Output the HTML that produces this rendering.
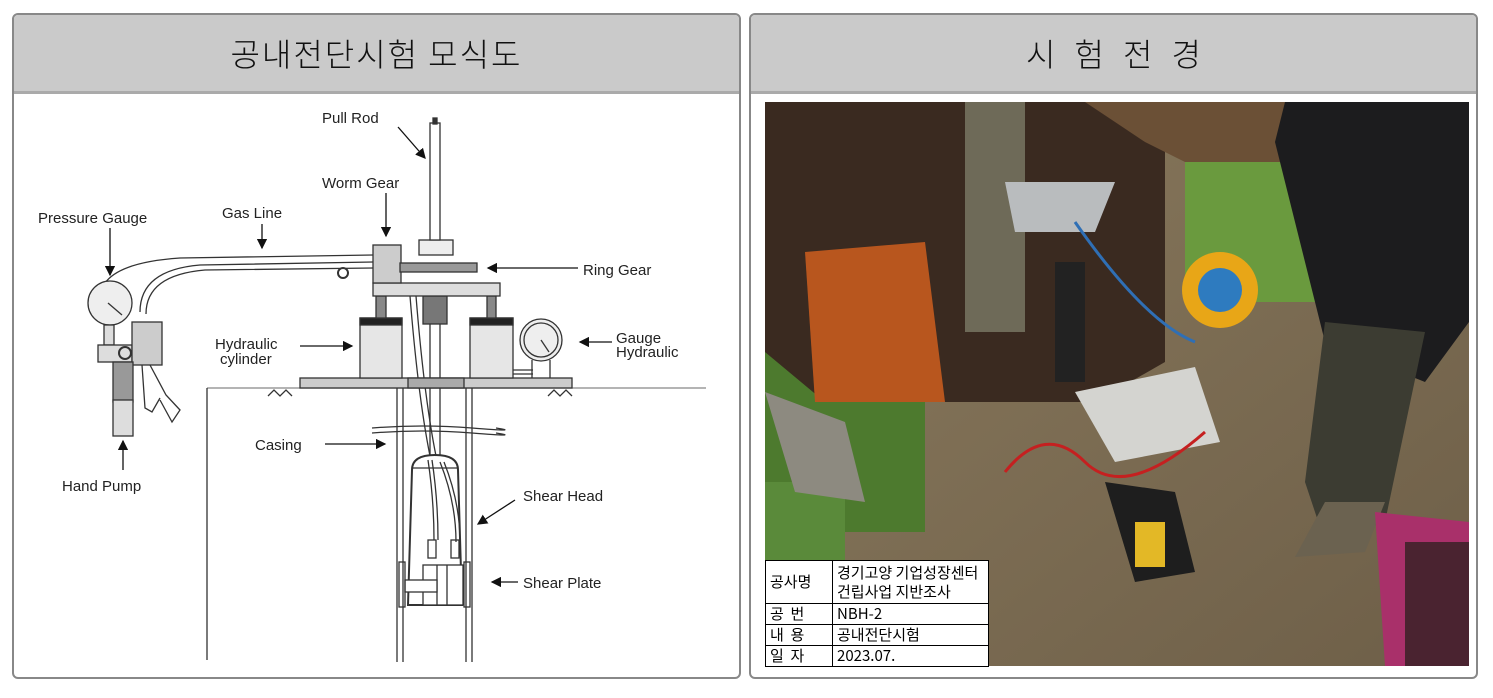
<!DOCTYPE html>
<html><head><meta charset="utf-8">
<style>
body{margin:0;width:1493px;height:698px;background:#fff;position:relative;overflow:hidden;font-family:"Liberation Sans","Noto Sans CJK KR",sans-serif}
.panel{position:absolute;top:13px;height:666px;border:2px solid #888;border-radius:6px;box-sizing:border-box;overflow:hidden;background:#fff}
.hd{height:76px;background:#cacaca;border-bottom:3px solid #aaa;text-align:center;line-height:76px;font-size:32px;color:#111;font-family:"Noto Sans CJK KR",sans-serif;font-weight:300}
svg text{font-family:"Liberation Sans",sans-serif;font-size:15px;fill:#222}
table{border-collapse:collapse;font-family:"Noto Sans CJK KR",sans-serif;font-size:15px;color:#000;background:#fff}
td{border:1px solid #000;padding:0 4px;line-height:20px}
</style></head><body>
<div class="panel" style="left:12px;width:729px"><div class="hd" style="letter-spacing:2px">공내전단시험 모식도</div></div>
<div class="panel" style="left:749px;width:729px"><div class="hd" style="letter-spacing:6px;padding-left:6px">시 험 전 경</div></div>

<svg style="position:absolute;left:0;top:0" width="745" height="698" viewBox="0 0 745 698">
<defs><marker id="a" markerWidth="8" markerHeight="8" refX="7" refY="4" orient="auto"><path d="M0,0L8,4L0,8z" fill="#111"/></marker></defs>
<g stroke="#333" stroke-width="1.3" fill="none">
<line x1="207" y1="388" x2="706" y2="388" stroke="#888"/>
<line x1="207" y1="388" x2="207" y2="660"/>
<path d="M268,396l6,-6l6,6l6,-6l6,6 M548,396l6,-6l6,6l6,-6l6,6" />
<line x1="397" y1="388" x2="397" y2="662"/><line x1="403" y1="388" x2="403" y2="662"/>
<line x1="466" y1="388" x2="466" y2="662"/><line x1="472" y1="388" x2="472" y2="662"/>
<path d="M372,428q50,-4 100,0t24,0 M372,433q50,-4 100,0t24,0"/>
<line x1="430" y1="296" x2="430" y2="455"/><line x1="440" y1="296" x2="440" y2="455"/>
<path d="M410,296q8,100 20,160M416,296q8,100 20,160"/>
<path d="M412,470 Q412,455 435,455 Q458,455 458,470 L462,605 L408,605 Z" stroke-width="2"/>
<line x1="412" y1="468" x2="458" y2="468"/>
<path d="M428,460q6,40 6,80M432,460q6,40 6,80M440,462q16,40 16,80M444,462q16,40 16,80"/>
<rect x="428" y="540" width="8" height="18"/><rect x="451" y="540" width="8" height="18"/>
<rect x="423" y="565" width="40" height="40" fill="#fff"/><line x1="437" y1="565" x2="437" y2="605"/><line x1="447" y1="565" x2="447" y2="605"/>
<rect x="405" y="580" width="32" height="12" fill="#fff"/>
<rect x="399" y="562" width="6" height="45"/><rect x="464" y="562" width="6" height="45"/>
<rect x="300" y="378" width="272" height="10" fill="#ccc"/>
<rect x="408" y="378" width="56" height="10" fill="#aaa"/>
<rect x="360" y="318" width="42" height="60" fill="#e6e6e6"/><rect x="360" y="318" width="42" height="7" fill="#222"/>
<rect x="470" y="318" width="43" height="60" fill="#e6e6e6"/><rect x="470" y="318" width="43" height="7" fill="#222"/>
<rect x="376" y="296" width="10" height="22" fill="#888"/><rect x="487" y="296" width="9" height="22" fill="#888"/>
<rect x="423" y="296" width="24" height="28" fill="#777"/>
<rect x="373" y="283" width="127" height="13" fill="#ddd"/>
<rect x="373" y="245" width="28" height="38" fill="#ccc"/>
<rect x="400" y="263" width="77" height="9" fill="#999"/>
<rect x="419" y="240" width="34" height="15" fill="#eee"/>
<rect x="430" y="123" width="10" height="117" fill="#fff"/>
<rect x="433" y="118" width="4" height="6" fill="#333"/>
<circle cx="541" cy="340" r="21" fill="#eee"/><circle cx="541" cy="340" r="17"/><line x1="541" y1="340" x2="549" y2="352"/>
<path d="M532,360v18M550,360v18M513,370h20M513,374h20"/>
<path d="M140,312 Q140,270 200,265 L373,262 M146,314 Q146,275 205,270 L373,268 M105,283 Q120,262 180,258 L373,255"/>
<circle cx="343" cy="273" r="5" fill="#fff" stroke-width="2"/>
<circle cx="110" cy="303" r="22" fill="#eee"/><line x1="108" y1="303" x2="122" y2="315"/>
<rect x="104" y="325" width="10" height="20" fill="#ddd"/>
<rect x="98" y="345" width="34" height="17" fill="#ddd"/>
<circle cx="125" cy="353" r="6" stroke-width="2"/>
<rect x="132" y="322" width="30" height="43" fill="#ccc"/>
<rect x="113" y="362" width="20" height="40" fill="#999"/><rect x="113" y="400" width="20" height="36" fill="#ddd"/>
<path d="M142,365 L145,408 L152,412 L160,398 M150,365 L166,395 L180,410 L172,422 L160,400"/>
</g>
<g stroke="#111" stroke-width="1.3" fill="none">
<line x1="398" y1="127" x2="425" y2="158" marker-end="url(#a)"/>
<line x1="386" y1="193" x2="386" y2="236" marker-end="url(#a)"/>
<line x1="262" y1="224" x2="262" y2="248" marker-end="url(#a)"/>
<line x1="110" y1="228" x2="110" y2="275" marker-end="url(#a)"/>
<line x1="578" y1="268" x2="488" y2="268" marker-end="url(#a)"/>
<line x1="612" y1="342" x2="580" y2="342" marker-end="url(#a)"/>
<line x1="300" y1="346" x2="352" y2="346" marker-end="url(#a)"/>
<line x1="325" y1="444" x2="385" y2="444" marker-end="url(#a)"/>
<line x1="123" y1="470" x2="123" y2="441" marker-end="url(#a)"/>
<line x1="515" y1="500" x2="478" y2="524" marker-end="url(#a)"/>
<line x1="518" y1="582" x2="492" y2="582" marker-end="url(#a)"/>
</g>
<text x="322" y="123">Pull Rod</text>
<text x="322" y="188">Worm Gear</text>
<text x="222" y="218">Gas Line</text>
<text x="38" y="223">Pressure Gauge</text>
<text x="583" y="275">Ring Gear</text>
<text x="616" y="343">Gauge</text><text x="616" y="357">Hydraulic</text>
<text x="215" y="349">Hydraulic</text><text x="220" y="364">cylinder</text>
<text x="255" y="450">Casing</text>
<text x="62" y="491">Hand Pump</text>
<text x="523" y="501">Shear Head</text>
<text x="523" y="588">Shear Plate</text>
</svg>

<svg style="position:absolute;left:765px;top:102px" width="704" height="564" viewBox="0 0 704 564">
<defs>
<linearGradient id="mud" x1="0" y1="0" x2="1" y2="1"><stop offset="0" stop-color="#8a7a5e"/><stop offset="1" stop-color="#6e5f48"/></linearGradient>
</defs>
<rect width="704" height="564" fill="url(#mud)"/>
<rect x="0" y="230" width="160" height="200" fill="#4d7a2e"/>
<rect x="0" y="380" width="80" height="184" fill="#5a8a3a"/>
<rect x="420" y="0" width="200" height="200" fill="#6a9a3e"/>
<path d="M0,0H400V260L330,300H60L0,250Z" fill="#3a2a20"/>
<path d="M40,150L160,140L180,300H50Z" fill="#b8561e"/>
<path d="M200,0H260V230H200Z" fill="#6e6a58"/>
<path d="M240,80H350L330,130H250Z" fill="#b9bcbe"/>
<rect x="290" y="160" width="30" height="120" fill="#222"/>
<path d="M320,0H560L530,60H420L380,40Z" fill="#6b5036"/>
<path d="M520,0H704V220L660,280L560,240L510,40Z" fill="#1c1c1e"/>
<path d="M560,220L660,230L620,420L560,440L540,380Z" fill="#3c3c32"/>
<path d="M560,400L620,400L600,450L530,455Z" fill="#6b6250"/>
<circle cx="455" cy="188" r="38" fill="#e8a617"/><circle cx="455" cy="188" r="22" fill="#2e7bbf"/>
<path d="M310,290L430,265L455,340L350,360Z" fill="#d4d4d0"/>
<path d="M0,290L80,320L100,400L30,390Z" fill="#8d8a80"/>
<path d="M340,380L410,390L430,470L370,480Z" fill="#1e1e1e"/>
<rect x="370" y="420" width="30" height="45" fill="#e3b826"/>
<path d="M610,410L704,420V564H620Z" fill="#a9306a"/>
<rect x="640" y="440" width="64" height="124" fill="#4a2330"/>
<path d="M240,370Q280,320 320,360T440,330" stroke="#c52020" stroke-width="3" fill="none"/>
<path d="M310,120Q380,220 430,240" stroke="#2f6fb5" stroke-width="3" fill="none"/>
</svg>
<div style="position:absolute;left:765px;top:560px">
<table style="width:224px">
<tr><td style="width:58px;height:42px">공사명</td><td style="line-height:19px">경기고양 기업성장센터<br>건립사업 지반조사</td></tr>
<tr><td>공&nbsp;&nbsp;번</td><td>NBH-2</td></tr>
<tr><td>내&nbsp;&nbsp;용</td><td>공내전단시험</td></tr>
<tr><td>일&nbsp;&nbsp;자</td><td>2023.07.</td></tr>
</table></div>
</body></html>
